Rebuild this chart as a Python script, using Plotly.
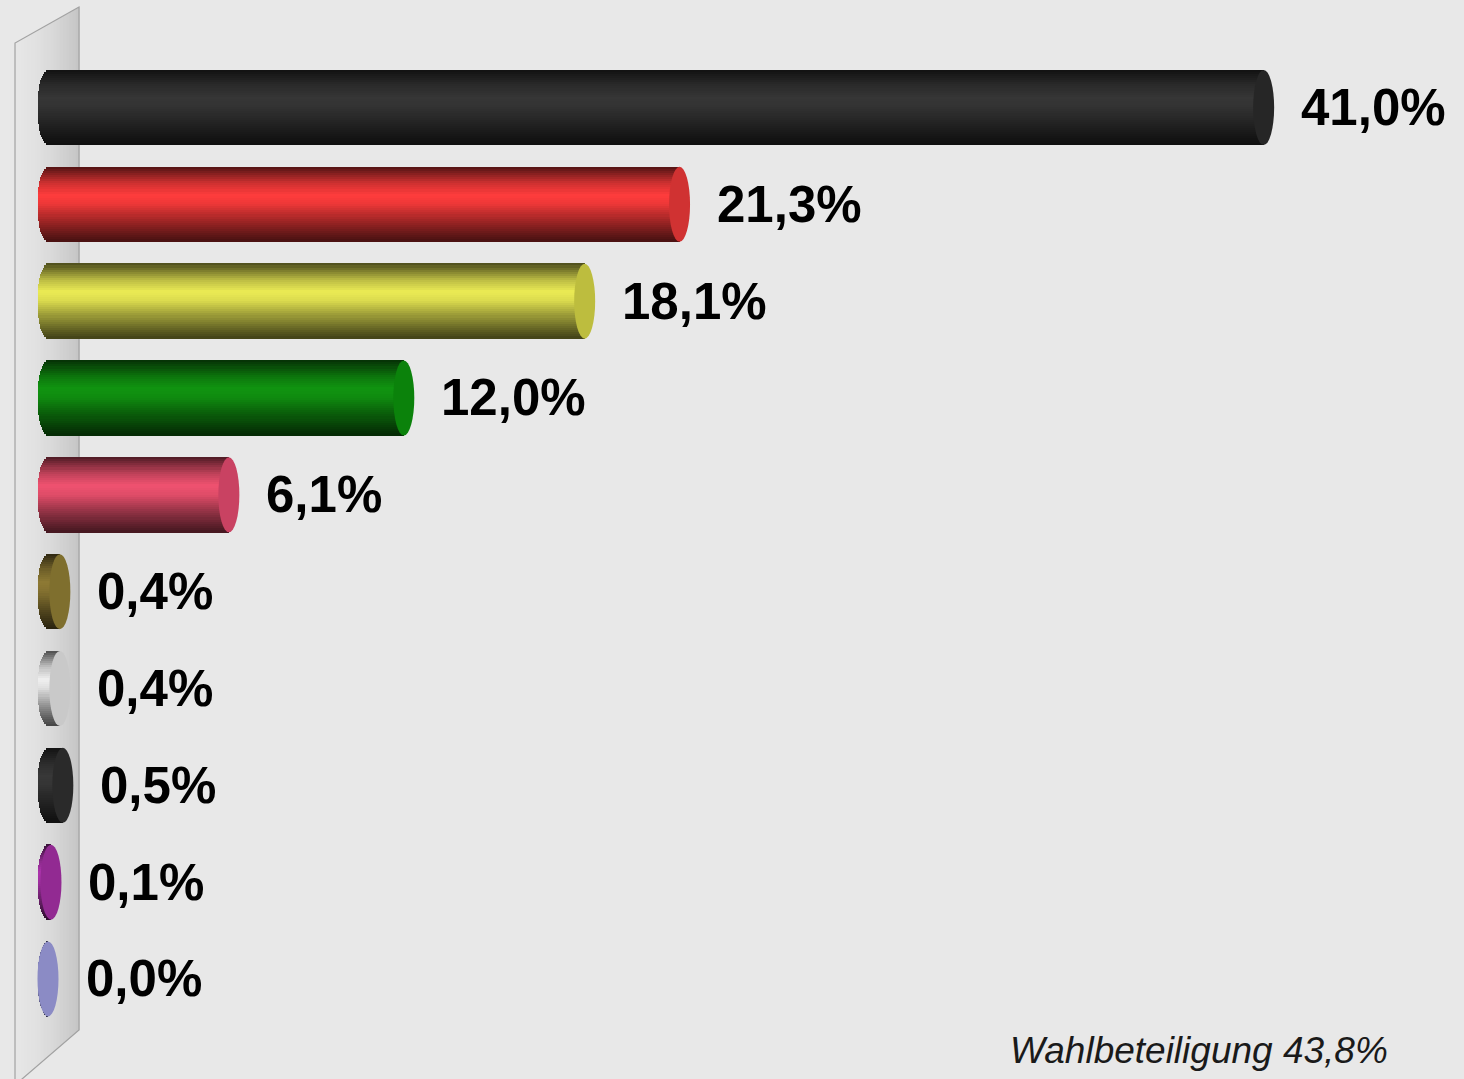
import plotly.graph_objects as go

# ---------------- data ----------------
values = [41.0, 21.3, 18.1, 12.0, 6.1, 0.4, 0.4, 0.5, 0.1, 0.0]
labels = ["41,0%", "21,3%", "18,1%", "12,0%", "6,1%", "0,4%", "0,4%", "0,5%", "0,1%", "0,0%"]
highlight_colors = [(54, 54, 54), (255, 60, 60), (234, 234, 84), (16, 148, 16), (240, 82, 112),
                    (142, 122, 52), (240, 240, 240), (56, 56, 56), (172, 52, 172), (140, 140, 200)]
cap_colors = ["#262626", "#d03232", "#bdbd3e", "#0b820b", "#c94262",
              "#7f6f2e", "#c9c9c9", "#2a2a2a", "#922a92", "#8b8bc5"]
turnout_text = "Wahlbeteiligung 43,8%"

# ---------------- geometry / style ----------------
W, H = 1464, 1079
X_ZERO_PX, X_SCALE = 48.0, 29.65          # px for value 0, px per percent
Y0_PX, Y_STEP = 107.5, 96.83
x_range = [-X_ZERO_PX / X_SCALE, (W - X_ZERO_PX) / X_SCALE]
y_range = [(H - Y0_PX) / Y_STEP, -Y0_PX / Y_STEP]
THICK = 75 / Y_STEP                         # bar thickness in y units
CAP_A = 10.5 / X_SCALE                      # ellipse half-width in x units
BG = "#e8e8e8"

profile = [(0.0, 0.32), (0.08, 0.5), (0.22, 0.8), (0.38, 1.0), (0.5, 0.93),
           (0.7, 0.65), (0.88, 0.42), (1.0, 0.28)]


def shade(t):
    for (t0, f0), (t1, f1) in zip(profile[:-1], profile[1:]):
        if t0 <= t <= t1:
            return f0 + (f1 - f0) * (t - t0) / (t1 - t0)
    return profile[-1][1]


def rgb(c, f):
    return "rgb(%d,%d,%d)" % tuple(max(0, min(255, int(round(v * f)))) for v in c)


fig = go.Figure()
ys = list(range(len(values)))
NB = 36
bw = THICK / NB
for k in range(NB):
    t = (k + 0.5) / NB
    dy = -THICK / 2 + t * THICK
    u = 2 * t - 1
    left = -CAP_A * max(0.0, 1 - u * u) ** 0.5
    fig.add_trace(go.Bar(
        orientation="h",
        y=[y + dy for y in ys],
        x=[v - left for v in values],
        base=[left] * len(values),
        width=bw * 1.25,
        marker=dict(color=[rgb(c, shade(t)) for c in highlight_colors], line=dict(width=0)),
        hoverinfo="skip",
        showlegend=False,
    ))

shapes = []
# wall (3D left plane) built as vertical strips with a gradient
def px2paper(px, py):
    return px / W, 1 - py / H

wall_l, wall_r = 15.0, 79.0
def y_top(x):
    return 43 - (x - wall_l) * 36 / 64
def y_bot(x):
    return 1030 + (wall_r - x) * 0.86

NS = 20
for s in range(NS):
    xa = wall_l + (wall_r - wall_l) * s / NS
    xb = wall_l + (wall_r - wall_l) * (s + 1) / NS
    f = s / (NS - 1)
    g = int(round(230 - 32 * f ** 1.6))
    pts = [px2paper(xa, y_top(xa)), px2paper(xb + 0.6, y_top(xb)),
           px2paper(xb + 0.6, y_bot(xb)), px2paper(xa, y_bot(xa))]
    path = "M %f,%f L %f,%f L %f,%f L %f,%f Z" % (pts[0] + pts[1] + pts[2] + pts[3])
    shapes.append(dict(type="path", xref="paper", yref="paper", path=path,
                       fillcolor="rgb(%d,%d,%d)" % (g, g, g), line=dict(width=0), layer="below"))
# outline of the wall
p1 = px2paper(wall_l, H + 10); p2 = px2paper(wall_l, y_top(wall_l))
p3 = px2paper(wall_r, y_top(wall_r)); p4 = px2paper(wall_r, y_bot(wall_r))
p5 = px2paper(wall_r - (H + 10 - 1030) / 0.86, H + 10)
shapes.append(dict(type="path", xref="paper", yref="paper",
                   path="M %f,%f L %f,%f L %f,%f L %f,%f L %f,%f" % (p1 + p2 + p3 + p4 + p5),
                   line=dict(color="#a2a2a2", width=1.2), layer="below"))

# end caps of the cylinders
for i, v in enumerate(values):
    shapes.append(dict(type="circle", xref="x", yref="y",
                       x0=v - CAP_A, x1=v + CAP_A, y0=i - THICK / 2, y1=i + THICK / 2,
                       fillcolor=cap_colors[i], line=dict(width=0), layer="above"))

annotations = []
for i, (v, lab) in enumerate(zip(values, labels)):
    annotations.append(dict(x=v, y=i, xref="x", yref="y", text=lab, showarrow=False,
                            xanchor="left", yanchor="middle", xshift=CAP_A * X_SCALE + 25, yshift=0,
                            font=dict(family="Liberation Sans, Arial, sans-serif", size=51,
                                      color="#000000", weight="bold")))
annotations.append(dict(x=1390 / W, y=1 - 1050 / H, xref="paper", yref="paper", text=turnout_text,
                        showarrow=False, xanchor="right", yanchor="middle",
                        font=dict(family="Liberation Sans, Arial, sans-serif", size=37,
                                  color="#1a1a1a", style="italic")))

fig.update_layout(
    width=W, height=H,
    margin=dict(l=0, r=0, t=0, b=0),
    paper_bgcolor=BG, plot_bgcolor=BG,
    barmode="overlay", bargap=0,
    xaxis=dict(range=x_range, visible=False, fixedrange=True),
    yaxis=dict(range=y_range, visible=False, fixedrange=True),
    shapes=shapes, annotations=annotations,
    showlegend=False,
)

fig.write_html("out.html", config={"displayModeBar": False},
               post_script="document.body.style.margin='0';document.body.style.background='%s';"
                           "document.body.style.overflow='hidden';" % BG)
